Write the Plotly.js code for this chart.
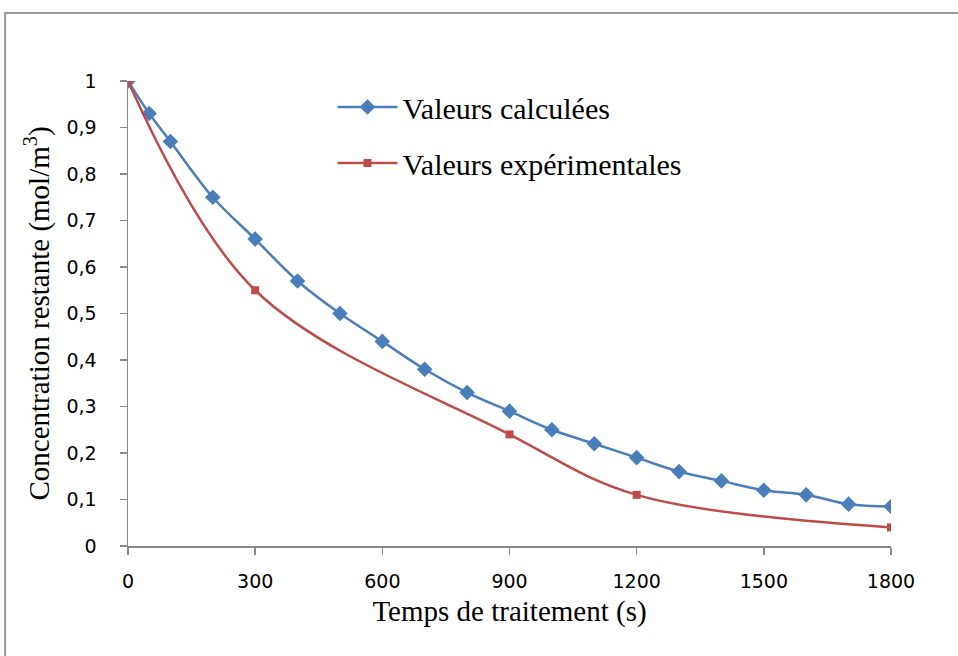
<!DOCTYPE html>
<html>
<head>
<meta charset="utf-8">
<script src="https://cdn.plot.ly/plotly-3.0.1.min.js"></script>
<style>html,body{margin:0;padding:0;background:#fff;}#chart{width:958px;height:656px;}</style>
</head>
<body>
<div id="chart"></div>
<script>
var timeCalc = [0, 50, 100, 200, 300, 400, 500, 600, 700, 800, 900, 1000, 1100, 1200, 1300, 1400, 1500, 1600, 1700, 1800];
var concCalc = [1, 0.93, 0.87, 0.75, 0.66, 0.57, 0.5, 0.44, 0.38, 0.33, 0.29, 0.25, 0.22, 0.19, 0.16, 0.14, 0.12, 0.11, 0.09, 0.085];
var timeExp = [0, 300, 900, 1200, 1800];
var concExp = [1, 0.55, 0.24, 0.11, 0.04];
var xTicks = [0, 300, 600, 900, 1200, 1500, 1800];
var yTicks = [0, 0.1, 0.2, 0.3, 0.4, 0.5, 0.6, 0.7, 0.8, 0.9, 1];

var traces = [
  {x: timeCalc, y: concCalc, name: 'Valeurs calculées', type: 'scatter', mode: 'lines+markers',
   legendgroup: 'a',
   line: {color: '#4A7EBB', width: 2.5, shape: 'spline', smoothing: 1},
   marker: {symbol: 'diamond', size: 12, color: '#4A7EBB'}},
  {x: timeExp, y: concExp, name: 'Valeurs expérimentales', type: 'scatter', mode: 'lines+markers',
   legendgroup: 'b',
   line: {color: '#BE4B48', width: 2.5, shape: 'spline', smoothing: 1},
   marker: {symbol: 'square', size: 8, color: '#BE4B48'}}
];

var serif = 'Liberation Serif, Times New Roman, serif';
var sans = 'DejaVu Sans, sans-serif';

var layout = {
  width: 958, height: 656,
  margin: {l: 128, r: 67, t: 81, b: 110},
  paper_bgcolor: '#fff', plot_bgcolor: '#fff',
  separators: ', ',
  showlegend: true,
  legend: {x: 0.268, y: 1.0, xanchor: 'left', yanchor: 'top', bgcolor: 'rgba(0,0,0,0)',
           font: {family: serif, size: 30, color: '#000'},
           itemwidth: 60,
           tracegroupgap: 14, traceorder: 'grouped'},
  xaxis: {range: [0, 1800], tickvals: xTicks, ticktext: xTicks.map(String),
          showgrid: false, zeroline: false, showline: true, linecolor: '#888', linewidth: 1.5,
          ticks: 'outside', ticklen: 7, tickcolor: '#888', tickwidth: 1.5,
          ticklabelstandoff: 11,
          tickfont: {family: sans, size: 19, color: '#000'},
          title: {text: 'Temps de traitement (s)', standoff: 9,
                  font: {family: serif, size: 29, color: '#000'}}},
  yaxis: {range: [0, 1], tickvals: yTicks,
          showgrid: false, zeroline: false, showline: true, linecolor: '#888', linewidth: 1.5,
          ticks: 'outside', ticklen: 7, tickcolor: '#888', tickwidth: 1.5,
          ticklabelstandoff: 19,
          tickfont: {family: sans, size: 19, color: '#000'},
          title: {text: 'Concentration restante (mol/m<sup>3</sup>)', standoff: 8,
                  font: {family: serif, size: 29, color: '#000'}}},
  shapes: [{type: 'rect', xref: 'paper', yref: 'paper', x0: -0.161, x1: 1.4, y0: -0.5, y1: 1.146,
            line: {color: '#999', width: 2}, fillcolor: 'rgba(0,0,0,0)', layer: 'below'}]
};

Plotly.newPlot('chart', traces, layout, {displayModeBar: false, staticPlot: true});
</script>
</body>
</html>
